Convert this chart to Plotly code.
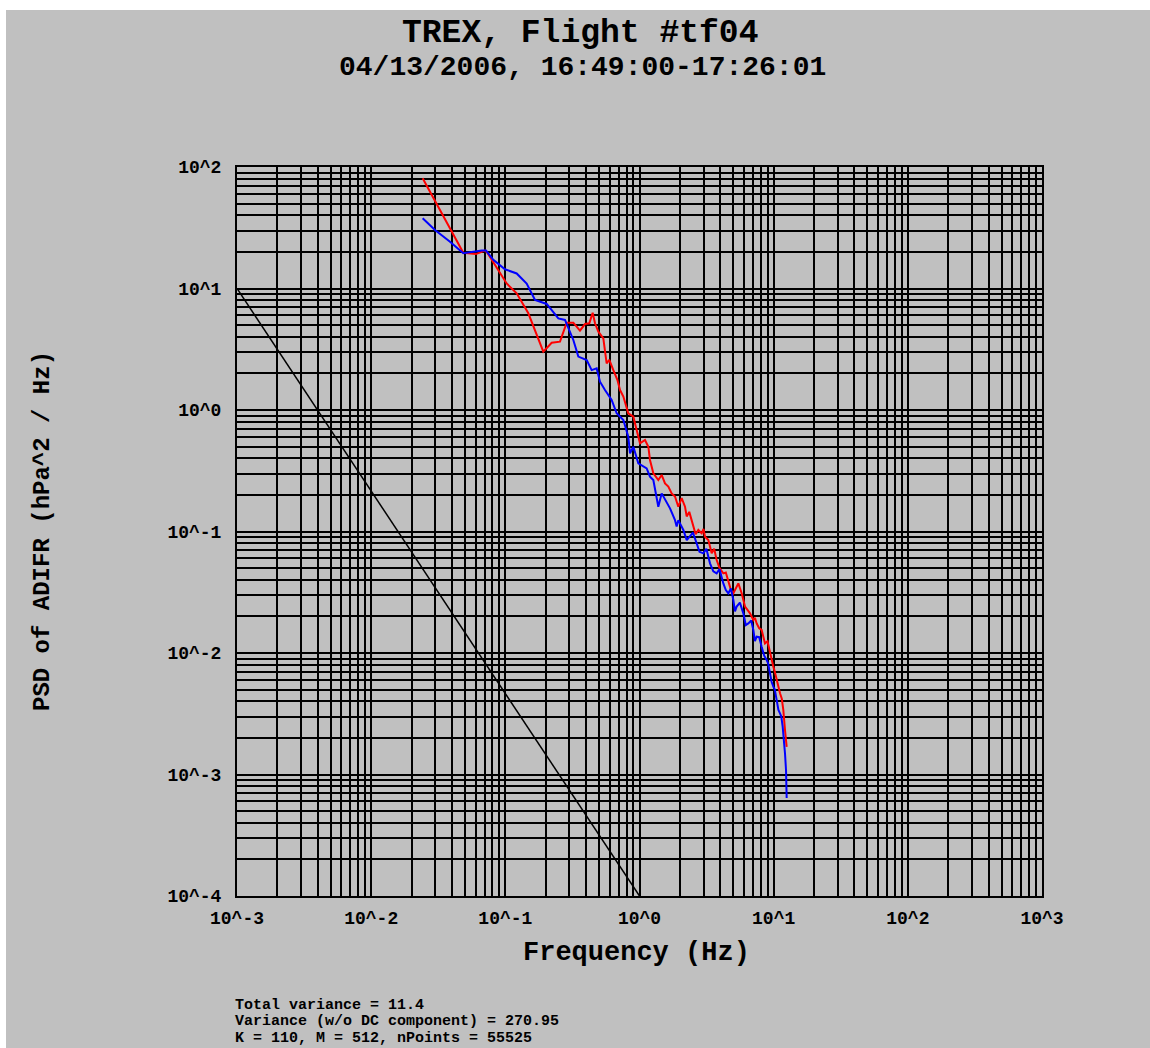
import plotly.graph_objects as go

# ---- data ----
ref_freq = [0.001, 1.0]
ref_psd = [10.0, 0.0001]

red_freq = [0.0242, 0.0486, 0.0604, 0.0705, 0.0734, 0.1023, 0.1215, 0.1484, 0.1919, 0.2215,
            0.2555, 0.2866, 0.3212, 0.3601, 0.3924, 0.4227, 0.4476, 0.4660, 0.4934, 0.5375,
            0.5690, 0.5957, 0.6381, 0.684, 0.716, 0.758, 0.825, 0.900, 0.952, 1.009,
            1.099, 1.164, 1.197, 1.268, 1.381, 1.463, 1.549, 1.640, 1.737, 1.839,
            1.947, 2.062, 2.184, 2.247, 2.35, 2.519, 2.62, 2.745, 2.907, 3.0, 3.078,
            3.259, 3.451, 3.6, 3.759, 3.95, 4.216, 4.4, 4.594, 4.8, 5.005, 5.25, 5.453,
            5.775, 6.114, 6.4, 6.664, 7.056, 7.25, 7.470, 7.8, 8.137, 8.616, 9.0, 9.391,
            9.943, 10.2, 10.53, 11.15, 11.5, 11.80, 12.15, 12.50]
red_psd = [80.7, 19.7, 19.2, 20.5, 19.7, 11.0, 9.13, 6.25, 3.02, 3.58,
           3.65, 5.23, 5.23, 4.50, 5.10, 5.17, 6.32, 5.17, 4.41, 3.89,
           2.42, 2.58, 2.13, 1.77, 1.46, 1.29, 0.939, 0.881, 0.684, 0.532,
           0.566, 0.499, 0.388, 0.301, 0.265, 0.292, 0.249, 0.234, 0.206, 0.194,
           0.160, 0.188, 0.160, 0.133, 0.145, 0.110, 0.095, 0.103, 0.0966, 0.105, 0.0907,
           0.0851, 0.0661, 0.072, 0.0582, 0.050, 0.0452, 0.046, 0.0399, 0.033, 0.0310, 0.035, 0.0374,
           0.0310, 0.0241, 0.0225, 0.0212, 0.0187, 0.0195, 0.0175, 0.0160, 0.0155, 0.0120, 0.0125, 0.00994,
           0.00772, 0.0070, 0.00599, 0.00466, 0.0042, 0.00340, 0.00232, 0.00169]

blue_freq = [0.0242, 0.0299, 0.0387, 0.0486, 0.0666, 0.0718, 0.0814, 0.0994, 0.1215, 0.1442,
             0.1664, 0.2033, 0.2483, 0.2784, 0.3212, 0.350, 0.4039, 0.4400, 0.4796, 0.5076,
             0.553, 0.620, 0.676, 0.758, 0.825, 0.850, 0.900, 0.980, 1.131, 1.197,
             1.268, 1.342, 1.381, 1.463, 1.549, 1.688, 1.839, 1.892, 1.947, 2.122,
             2.25, 2.379, 2.5, 2.668, 2.8, 2.991, 3.15, 3.353, 3.55, 3.759, 3.95, 4.216,
             4.4, 4.594, 4.8, 5.005, 5.15, 5.299, 5.6, 5.942, 6.2, 6.475, 6.8, 7.056,
             7.25, 7.470, 7.8, 8.137, 8.5, 8.868, 9.1, 9.391, 9.65, 9.943, 10.2, 10.53,
             10.85, 11.15, 11.4, 11.67, 11.94, 12.15, 12.36, 12.50]
blue_psd = [37.8, 30.3, 24.3, 19.5, 20.5, 20.5, 17.2, 14.4, 13.3, 11.0,
            8.04, 7.46, 5.68, 5.51, 3.77, 2.75, 2.58, 2.13, 2.20, 1.71,
            1.46, 1.21, 0.939, 0.827, 0.603, 0.440, 0.499, 0.364, 0.331, 0.283,
            0.265, 0.194, 0.160, 0.206, 0.182, 0.155, 0.124, 0.110, 0.124, 0.103,
            0.085, 0.0907, 0.098, 0.0799, 0.068, 0.0661, 0.072, 0.0547, 0.047, 0.0452, 0.049, 0.0374,
            0.033, 0.0310, 0.034, 0.0273, 0.022, 0.0241, 0.026, 0.0212, 0.017, 0.01754, 0.0185, 0.01546,
            0.0125, 0.01363, 0.0135, 0.01127, 0.0095, 0.00876, 0.0082, 0.00680, 0.0058, 0.00528, 0.0050, 0.00410,
            0.0034, 0.00319, 0.0030, 0.00248, 0.00192, 0.00149, 0.00109, 0.00064]

x_tickvals = [1e-3, 1e-2, 1e-1, 1e0, 1e1, 1e2, 1e3]
x_ticktext = ["10^-3", "10^-2", "10^-1", "10^0", "10^1", "10^2", "10^3"]
y_tickvals = [1e-4, 1e-3, 1e-2, 1e-1, 1e0, 1e1, 1e2]
y_ticktext = ["10^-4", "10^-3", "10^-2", "10^-1", "10^0", "10^1", "10^2"]

title_text = "TREX, Flight #tf04"
subtitle_text = "04/13/2006, 16:49:00-17:26:01"
x_title = "Frequency (Hz)"
y_title = "PSD of ADIFR (hPa^2 / Hz)"
notes = ["Total variance = 11.4",
         "Variance (w/o DC component) = 270.95",
         "K = 110, M = 512, nPoints = 55525"]

# ---- figure ----
W, H = 1150, 1048
L, R, T, B = 237, 108, 167, 152
pw, ph = W - L - R, H - T - B

def px(xp):
    return (xp - L) / pw

def py(yp):
    return (H - B - yp) / ph

FONT = "Liberation Mono, Courier New, monospace"
GRAY = "#c0c0c0"

fig = go.Figure()
fig.add_trace(go.Scatter(x=ref_freq, y=ref_psd, mode="lines",
                         line=dict(color="black", width=1.5), showlegend=False))
fig.add_trace(go.Scatter(x=red_freq, y=red_psd, mode="lines",
                         line=dict(color="#ff0000", width=2), showlegend=False))
fig.add_trace(go.Scatter(x=blue_freq, y=blue_psd, mode="lines",
                         line=dict(color="#0000ff", width=2), showlegend=False))

minor_x = [m * 10.0 ** e for e in range(-3, 3) for m in range(2, 10)]
minor_y = [m * 10.0 ** e for e in range(-4, 2) for m in range(2, 10)]

axis_common = dict(type="log", showgrid=True, gridcolor="black", gridwidth=2,
                   showline=True, linecolor="black", linewidth=2, mirror=True,
                   zeroline=False, ticks="",
                   tickfont=dict(family=FONT, size=18, color="black", weight="bold"))

fig.update_xaxes(range=[-3, 3], tickvals=x_tickvals, ticktext=x_ticktext,
                 minor=dict(tickvals=minor_x, showgrid=True, gridcolor="black", gridwidth=2, ticks=""),
                 ticklabelstandoff=4, **axis_common)
fig.update_yaxes(range=[-4, 2], tickvals=y_tickvals, ticktext=y_ticktext,
                 minor=dict(tickvals=minor_y, showgrid=True, gridcolor="black", gridwidth=2, ticks=""),
                 ticklabelstandoff=10, **axis_common)

ann = []
ann.append(dict(text=title_text, x=px(580), y=py(33), xref="paper", yref="paper",
                showarrow=False, xanchor="center", yanchor="middle",
                font=dict(family=FONT, size=33, color="black", weight="bold")))
ann.append(dict(text=subtitle_text, x=px(582), y=py(67), xref="paper", yref="paper",
                showarrow=False, xanchor="center", yanchor="middle",
                font=dict(family=FONT, size=28, color="black", weight="bold")))
ann.append(dict(text=x_title, x=px(636), y=py(953), xref="paper", yref="paper",
                showarrow=False, xanchor="center", yanchor="middle",
                font=dict(family=FONT, size=27, color="black", weight="bold")))
ann.append(dict(text=y_title, x=px(42), y=py(531), xref="paper", yref="paper",
                showarrow=False, xanchor="center", yanchor="middle", textangle=-90,
                font=dict(family=FONT, size=24, color="black", weight="bold")))
for i, line in enumerate(notes):
    ann.append(dict(text=line, x=px(233), y=py(1006 + 16 * i), xref="paper", yref="paper",
                    showarrow=False, xanchor="left", yanchor="middle",
                    font=dict(family=FONT, size=15, color="black", weight="bold")))

shapes = [
    dict(type="rect", xref="paper", yref="paper", x0=px(-5), x1=px(6), y0=py(H + 20), y1=py(-5),
         fillcolor="white", line=dict(width=0), layer="above"),
    dict(type="rect", xref="paper", yref="paper", x0=px(-5), x1=px(W + 5), y0=py(10), y1=py(-5),
         fillcolor="white", line=dict(width=0), layer="above"),
]

fig.update_layout(width=W, height=H, autosize=False,
                  margin=dict(l=L, r=R, t=T, b=B, pad=0),
                  paper_bgcolor=GRAY, plot_bgcolor=GRAY,
                  annotations=ann, shapes=shapes, showlegend=False)

fig.write_html("out.html")
